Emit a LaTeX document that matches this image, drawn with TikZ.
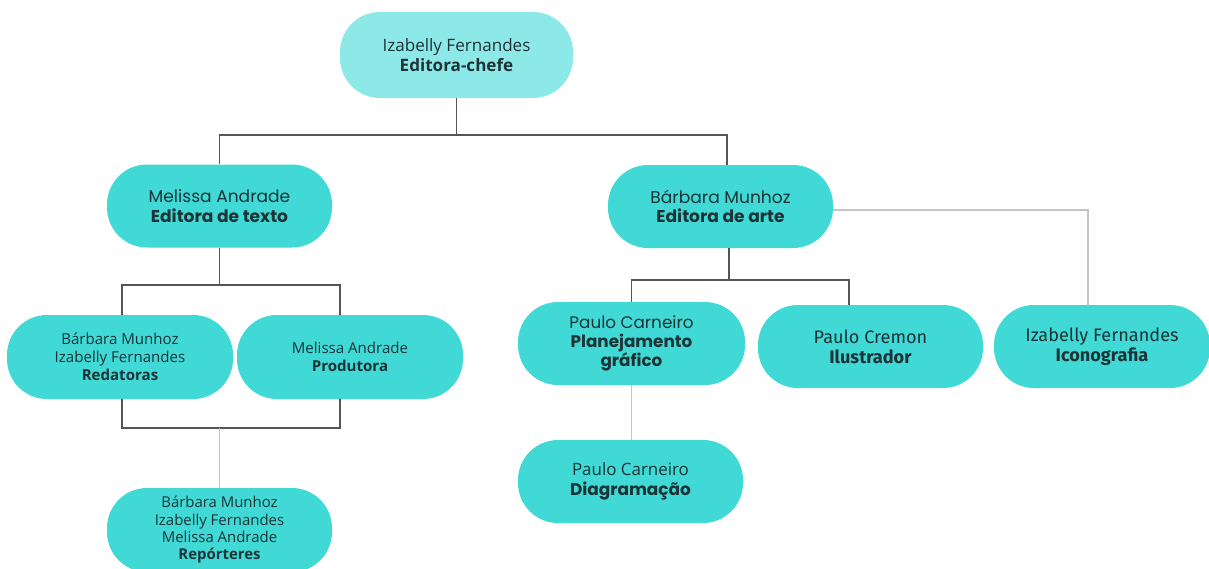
\documentclass[tikz,border=0pt]{standalone}
\usepackage{fontspec}
\setmainfont{Open Sans}
\newfontfamily\fint{Open Sans}
\newfontfamily\fmont{Poppins}
\newfontfamily\fdin{Fira Sans}
\definecolor{tq}{HTML}{40D9D6}
\definecolor{tqlight}{HTML}{8DE9E7}
\definecolor{txt}{HTML}{1D3336}
\definecolor{dkline}{HTML}{555555}
\definecolor{ltline}{HTML}{C4C4C4}
\tikzset{
  box/.style={rectangle, rounded corners=30pt, fill=tq, minimum width=168.75pt,
    minimum height=62.25pt, inner sep=0pt, align=center, text=txt},
  fi/.style={font=\fint\fontsize{11.3}{13.5}\selectfont},
  fm/.style={font=\fmont\fontsize{12.8}{14.5}\selectfont},
  fd/.style={font=\fdin\fontsize{13.6}{14.8}\selectfont},
  dk/.style={draw=dkline, line width=1.1pt},
  lt/.style={draw=ltline, line width=1.1pt}
}
\begin{document}
\begin{tikzpicture}[x=0.75pt,y=-0.75pt]
\useasboundingbox (0,0) rectangle (1209,568);
\begin{scope}
\clip (0,0) rectangle (1209,568);
% junction coordinates
\coordinate (j1) at (456.5,135);
\coordinate (ax) at (727,135);
\coordinate (l1) at (122,285);
\coordinate (l2) at (340,285);
\coordinate (b2) at (340,428);
\coordinate (c1) at (729,280);
\coordinate (c3) at (849,280);
\coordinate (r1) at (1088,210);

\node[box, fill=tqlight, minimum width=174.75pt, minimum height=64.5pt, font=\fint\fontsize{12.8}{14.5}\selectfont] (ec) at (456.5,55) {Izabelly Fernandes\\\textbf{Editora-chefe}};
\node[box, fm] (et) at (219.5,206) {Melissa Andrade\\\textbf{Editora de texto}};
\node[box, fm] (ea) at (720.5,206.5) {Bárbara Munhoz\\\textbf{Editora de arte}};
\node[box, fi, minimum width=169.5pt, minimum height=63pt] (red) at (120,357) {Bárbara Munhoz\\Izabelly Fernandes\\\textbf{Redatoras}};
\node[box, fi, minimum width=169.5pt, minimum height=63pt, font=\fint\fontsize{11.3}{14}\selectfont] (pro) at (350,357) {Melissa Andrade\\\textbf{Produtora}};
\node[box, fi, minimum height=63pt, font=\fint\fontsize{11.2}{13}\selectfont] (rep) at (219.5,530) {Bárbara Munhoz\\Izabelly Fernandes\\Melissa Andrade\\\textbf{Repórteres}};
\node[box, fm, minimum width=170.25pt, font=\fmont\fontsize{12.6}{14.5}\selectfont] (pla) at (631.5,343.5) {Paulo Carneiro\\\textbf{Planejamento}\\\textbf{gráfico}};
\node[box, fi, font=\fint\fontsize{12.7}{14.5}\selectfont] (dia) at (630.5,481.5) {Paulo Carneiro\\{\fmont\bfseries Diagramação}};
\node[box, fd] (ilu) at (870.5,346.5) {Paulo Cremon\\\textbf{Ilustrador}};
\node[box, fd, minimum width=162pt] (ico) at (1102,346.5) {Izabelly Fernandes\\\textbf{Iconografia}};

\draw[dk] (ec.south) -- (j1);
\draw[dk] (et.north) |- (ax) -- (ax |- ea.north);
\draw[dk] (et.south) -- (et.south |- l1);
\draw[dk] (l1 |- red.north) |- (l2) -- (l2 |- pro.north);
\draw[dk] (l1 |- red.south) |- (b2) -- (b2 |- pro.south);
\draw[lt] (rep.north |- b2) -- (rep.north);
\draw[dk] (ea.south -| c1) -- (c1);
\draw[dk] (pla.north) |- (c3) -- (c3 |- ilu.north);
\draw[lt] (ea.east |- r1) -- (r1) -- (r1 |- ico.north);
\draw[lt] (pla.south) -- (pla.south |- dia.north);
\end{scope}
\end{tikzpicture}
\end{document}
